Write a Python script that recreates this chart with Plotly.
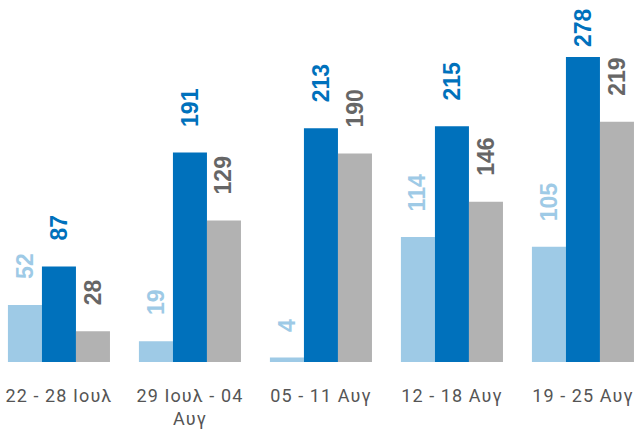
import plotly.graph_objects as go

categories = ["22 - 28 Ιουλ", "29 Ιουλ - 04<br>Αυγ", "05 - 11 Αυγ", "12 - 18 Αυγ", "19 - 25 Αυγ"]
series_a = [52, 19, 4, 114, 105]
series_b = [87, 191, 213, 215, 278]
series_c = [28, 129, 190, 146, 219]

bar_colors = ["#9ecae6", "#0071bc", "#b2b2b2"]
label_colors = ["#9ecae6", "#0071bc", "#666666"]
series = [series_a, series_b, series_c]

W, H = 636, 431
margin_b = 69
y_max = 330
x_range = [-0.45, 4.405]
bargap = 0.221

fig = go.Figure()
for k, vals in enumerate(series):
    fig.add_trace(go.Bar(
        x=list(range(len(categories))), y=vals,
        marker=dict(color=bar_colors[k], line=dict(width=0)),
        hoverinfo="skip", showlegend=False,
    ))

plot_h = H - margin_b
scale = plot_h / y_max
bw = (1 - bargap) / 3
font_size = 23
annotations = []
for k, vals in enumerate(series):
    for i, v in enumerate(vals):
        top_px = v * scale  # distance from baseline
        txt_len = 0.56 * font_size * len(str(v))
        free = plot_h - top_px - txt_len - 10
        shift = min(24, free)
        annotations.append(dict(
            x=i + (k - 1) * bw, y=v, xref="x", yref="y",
            text="<b>%d</b>" % v, showarrow=False, textangle=-90,
            xanchor="center", yanchor="bottom", yshift=shift,
            font=dict(family="Liberation Sans, Arial", size=font_size, color=label_colors[k]),
        ))

ls = '<span style="letter-spacing:1.1px">'
ticktext = [ls + c.replace("<br>", "</span><br>" + ls) + "</span>" for c in categories]

fig.update_layout(
    width=W, height=H,
    margin=dict(l=0, r=0, t=0, b=margin_b),
    paper_bgcolor="white", plot_bgcolor="white",
    barmode="group", bargap=bargap, bargroupgap=0,
    annotations=annotations,
    xaxis=dict(
        range=x_range, tickmode="array", tickvals=list(range(len(categories))),
        ticktext=ticktext, showgrid=False, zeroline=False, showline=False,
        ticks="", ticklabelstandoff=21,
        tickfont=dict(family="Roboto", size=18, color="#555555"),
    ),
    yaxis=dict(range=[0, y_max], visible=False, showgrid=False, zeroline=False),
)

fig.write_html(
    "out.html",
    config={"displayModeBar": False},
    post_script="document.body.style.margin='0px';document.body.style.overflow='hidden';",
)
